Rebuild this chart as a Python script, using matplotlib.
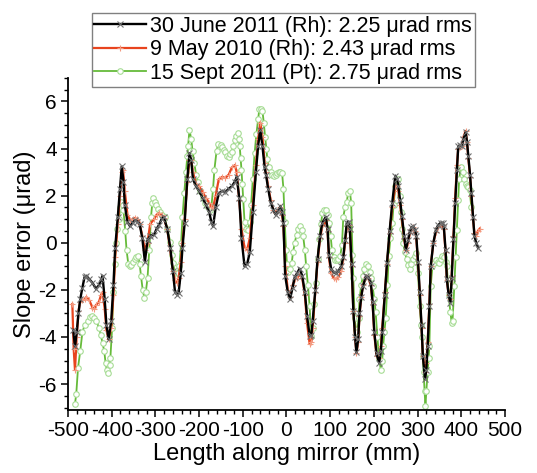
import numpy as np
import matplotlib
matplotlib.use("Agg")
import matplotlib.pyplot as plt
from matplotlib.ticker import MultipleLocator

plt.rcParams["font.family"] = ["Liberation Sans", "DejaVu Sans"]
plt.rcParams["axes.unicode_minus"] = False

# 30 June 2011 (Rh)
x_black = [-488, -484, -480, -476, -472, -467, -462, -458, -451, -444, -436, -429, -424, -421,
           -416, -412, -407, -401, -396, -392, -386, -381, -377, -373, -370, -364, -358, -352,
           -347, -341, -336, -330, -324, -318, -312, -303, -297, -292, -286, -281, -273, -266,
           -260, -255, -250, -247, -242, -238, -233, -227, -222, -218, -214, -207, -200, -192,
           -184, -177, -172, -168, -162, -155, -147, -140, -132, -125, -118, -114, -108, -103,
           -96, -90, -84, -77, -70, -65, -60, -55, -50, -47, -42, -36, -30, -25, -19, -14, -10,
           -7, -3, 3, 8, 14, 19, 24, 30, 36, 42, 47, 53, 57, 60, 66, 71, 77, 82, 90, 94, 97,
           102, 108, 114, 119, 125, 130, 134, 138, 142, 145, 149, 153, 157, 160, 164, 167, 171,
           175, 182, 187, 193, 197, 201, 206, 212, 216, 219, 225, 230, 236, 242, 249, 253, 256,
           260, 264, 269, 273, 278, 282, 286, 290, 294, 297, 301, 305, 309, 312, 317, 320, 323,
           327, 330, 336, 342, 347, 353, 357, 360, 364, 367, 371, 375, 378, 382, 386, 390, 393,
           397, 401, 405, 410, 413, 416, 420, 423, 427, 430, 434, 438]
y_black = [-3.7, -4.4, -3.8, -3.0, -2.4, -1.9, -1.45, -1.4, -1.55, -1.7, -1.95, -1.8, -1.55, -1.4,
           -2.4, -3.5, -4.1, -3.3, -1.8, -0.2, 1.1, 2.3, 3.25, 2.6, 1.6, 0.9, 0.7, 0.85,
           0.95, 0.9, 0.8, 0.2, -0.8, 0.1, 0.3, 0.35, 0.6, 0.75, 1.0, 1.1, 0.6, -0.2,
           -1.2, -2.1, -2.2, -2.15, -1.3, -0.2, 0.85, 2.7, 3.8, 3.5, 2.7, 2.4, 2.2, 1.9,
           1.6, 1.3, 0.9, 0.7, 1.5, 2.1, 2.2, 2.15, 2.3, 2.4, 2.6, 2.8, 1.9, 0.2,
           -1.0, -0.9, -0.4, 1.3, 3.0, 4.1, 4.8, 4.1, 3.2, 2.9, 2.3, 1.7, 1.4, 1.2, 1.35, 1.55, 1.3,
           0.85, -1.4, -2.1, -2.4, -1.9, -1.45, -1.3, -1.1, -1.4, -2.1, -3.1, -3.95, -3.9, -3.3, -2.0, -0.7, 0.3, 0.85, 1.1, 0.6, -0.5,
           -1.1, -1.25, -1.3, -1.2, -1.0, -0.6, 0.1, 0.85, 0.9, 0.6, -0.9, -2.9, -4.0, -4.65, -4.1, -3.0, -2.3,
           -1.85, -1.4, -1.45, -1.7, -2.5, -3.8, -4.7, -5.1, -4.6, -3.8, -2.2, -0.85, 0.5, 1.7, 2.85, 2.7, 2.4,
           1.8, 1.15, 0.3, -0.3, 0.1, 0.45, 0.65, 0.7, 0.55, 0.3, -0.8, -2.1, -3.5, -4.8, -5.8, -5.4, -4.4,
           -2.7, -1.0, 0.0, 0.55, 0.75, 0.85, 0.85, 0.7, -0.3, -1.55, -2.2, -2.55, -1.5, 0.15, 1.7, 3.1, 4.1,
           4.15, 4.1, 4.4, 4.7, 4.3, 3.7, 2.9, 2.1, 1.1, 0.3, 0.0, -0.2]

# 9 May 2010 (Rh)
x_red = [-490, -487, -484, -480, -476, -472, -467, -462, -458, -451, -444, -440, -436, -429,
         -424, -421, -416, -412, -407, -401, -396, -392, -386, -381, -377, -374, -370, -364,
         -358, -352, -347, -341, -336, -330, -324, -318, -312, -303, -297, -292, -286, -281,
         -273, -266, -260, -255, -250, -247, -242, -238, -233, -227, -222, -218, -214, -207,
         -200, -192, -184, -177, -172, -168, -162, -155, -147, -140, -132, -125, -118, -114,
         -108, -103, -96, -90, -84, -77, -70, -65, -60, -55, -50, -47, -42, -36, -30, -25,
         -19, -14, -10, -7, -3, 3, 8, 14, 19, 24, 30, 36, 42, 47, 53, 57, 60, 66, 71, 77, 82,
         90, 94, 97, 102, 108, 114, 119, 125, 130, 134, 138, 142, 145, 149, 153, 157, 160,
         164, 167, 171, 175, 182, 187, 193, 197, 201, 206, 212, 216, 219, 225, 230, 236, 242,
         249, 253, 256, 260, 264, 269, 273, 278, 282, 286, 290, 294, 297, 301, 305, 309, 312,
         317, 320, 323, 327, 330, 336, 342, 347, 353, 357, 360, 364, 367, 371, 375, 378, 382,
         386, 390, 393, 397, 401, 405, 410, 413, 416, 420, 423, 427, 430, 434, 438, 442]
y_red = [-2.6, -4.5, -5.4, -4.0, -2.9, -2.5, -2.45, -2.4, -2.3, -2.45, -2.75, -2.8, -2.65, -2.5,
         -2.2, -2.1, -2.8, -3.7, -4.1, -3.6, -2.2, -0.6, 0.8, 2.0, 3.0, 3.1, 2.2, 1.2,
         0.95, 1.0, 1.05, 1.0, 0.8, 0.3, -0.3, 0.0, 0.8, 1.0, 1.2, 1.25, 1.2, 1.05,
         0.6, -0.3, -1.2, -1.6, -1.7, -1.5, -0.8, 0.0, 1.0, 2.6, 3.5, 3.5, 3.0, 2.5,
         2.4, 2.15, 1.9, 1.7, 1.5, 1.5, 2.0, 2.7, 2.8, 2.75, 2.9, 3.2, 3.3, 3.0,
         1.8, 0.6, -0.2, -0.3, 0.2, 1.6, 3.3, 4.4, 5.1, 4.5, 3.4, 3.0, 2.4, 1.8, 1.4, 1.3,
         1.4, 1.5, 1.2, 0.7, -1.0, -2.0, -2.3, -1.8, -1.55, -1.5, -1.35, -1.5, -2.2, -3.4, -4.3, -4.2, -3.6, -2.1, -0.8, 0.2, 0.7,
         0.95, 0.5, -0.6, -1.3, -1.5, -1.55, -1.45, -1.2, -0.7, 0.0, 0.7, 0.75, 0.5, -1.0, -2.9, -4.0, -4.7,
         -4.2, -3.1, -2.3, -1.8, -1.45, -1.5, -1.8, -2.6, -3.9, -4.8, -4.9, -4.4, -3.6, -2.1, -0.9, 0.4, 1.5,
         2.4, 2.4, 2.2, 1.6, 1.0, 0.2, -0.3, 0.0, 0.4, 0.6, 0.65, 0.5, 0.2, -0.9, -2.2, -3.6, -4.8,
         -5.5, -5.1, -4.2, -2.6, -1.0, 0.0, 0.45, 0.65, 0.75, 0.75, 0.6, -0.4, -1.6, -2.2, -2.4, -1.4, 0.3,
         1.9, 3.3, 4.0, 4.05, 4.1, 4.5, 4.75, 4.3, 3.6, 2.8, 2.0, 1.0, 0.4, 0.3, 0.5, 0.6]

# 15 Sept 2011 (Pt)
x_green = [-484, -481, -477, -472, -467, -462, -455, -449, -444, -440, -436, -429, -425, -421,
           -417, -414, -411, -408, -405, -403, -399, -396, -393, -390, -387, -384, -380, -378,
           -375, -373, -369, -366, -362, -358, -355, -351, -347, -344, -340, -336, -333, -329,
           -325, -322, -318, -314, -310, -307, -305, -301, -298, -294, -290, -284, -279, -273,
           -266, -262, -259, -256, -253, -249, -245, -241, -238, -234, -230, -227, -225, -222,
           -218, -215, -211, -207, -203, -197, -192, -187, -181, -176, -172, -168, -165, -160,
           -156, -151, -147, -144, -140, -136, -132, -129, -125, -122, -118, -115, -112, -109,
           -107, -105, -103, -101, -99, -96, -92, -88, -84, -81, -77, -73, -69, -65, -62, -58,
           -55, -52, -49, -46, -44, -40, -36, -33, -29, -25, -21, -18, -14, -10, -7, -4, -1,
           1, 4, 8, 12, 15, 19, 23, 27, 32, 35, 38, 42, 45, 49, 53, 56, 60, 64, 67, 71, 75,
           79, 82, 86, 90, 94, 97, 101, 104, 108, 112, 116, 119, 123, 127, 130, 134, 138, 141,
           145, 148, 151, 153, 156, 159, 162, 165, 167, 171, 175, 178, 182, 186, 190, 193, 197,
           201, 204, 208, 212, 216, 219, 221, 224, 227, 231, 234, 238, 242, 245, 249, 253, 256,
           260, 262, 265, 267, 271, 275, 278, 282, 286, 290, 293, 297, 301, 305, 308, 310, 312,
           314, 316, 318, 320, 323, 325, 327, 330, 334, 338, 342, 346, 349, 353, 356, 360, 364,
           367, 371, 375, 378, 380, 384, 387, 390, 393, 395, 399, 403, 407, 410, 412, 416, 419, 423]
y_green = [-6.85, -6.4, -5.3, -4.6, -3.8, -3.5, -3.3, -3.15, -3.1, -3.2, -3.3, -3.6, -3.9, -4.25,
           -4.6, -5.1, -5.4, -5.55, -5.2, -4.9, -3.6, -2.1, -0.9, 0.0, 0.6, 1.0, 1.5, 1.75,
           1.6, 1.4, 0.5, -0.3, -0.9, -1.0, -0.95, -0.8, -0.7, -0.6, -0.55, -0.9, -1.4, -2.0,
           -2.35, -2.1, -1.5, -0.3, 1.1, 1.7, 1.9, 1.75, 1.6, 1.45, 1.3, 1.2, 1.1, 0.6,
           0.05, -0.5, -0.85, -1.3, -1.5, -1.3, -1.0, 0.0, 1.1, 2.1, 3.0, 3.7, 4.1, 4.8,
           4.4, 3.9, 3.4, 2.9, 2.6, 2.2, 1.9, 1.7, 1.55, 1.4, 1.5, 2.3, 3.1, 3.9,
           4.2, 4.15, 4.05, 3.95, 3.85, 3.7, 3.65, 3.75, 3.85, 4.1, 4.35, 4.55, 4.65, 4.4,
           4.1, 3.6, 3.1, 2.5, 1.85, 0.9, 0.6, 0.55, 0.9, 1.6, 2.7, 3.8, 4.6, 5.25, 5.7, 5.7,
           5.6, 5.1, 4.5, 4.0, 3.55, 3.2, 3.0, 2.9, 2.85, 2.9, 2.95, 3.0, 3.0, 2.95, 2.3, 0.9, -0.3,
           -0.9, -1.25, -1.1, -0.85, -0.4, 0.0, 0.35, 0.6, 0.7, 0.55, 0.3, -0.3, -1.0, -1.8, -2.7, -3.95, -3.6, -2.6, -1.7, -0.7, 0.15,
           0.8, 1.25, 1.4, 1.4, 1.2, 0.85, 0.3, -0.3, -0.6, -0.75, -0.75, -0.7, -0.55, -0.1, 1.1, 1.5, 1.75, 2.1,
           2.2, 1.7, -0.5, -1.5, -3.2, -3.7, -3.8, -3.2, -2.4, -1.8, -1.4, -1.1, -0.9, -1.0, -1.25, -1.5, -1.85,
           -2.4, -2.95, -4.0, -4.95, -5.4, -5.0, -4.4, -3.8, -3.2, -1.8, -0.55, 0.2, 0.85, 1.6, 2.4, 2.65, 2.7,
           2.0, 1.3, 0.6, 0.0, -0.4, -0.7, -0.95, -1.1, -0.9, -0.7, -0.55, -0.45, -1.3, -2.7, -3.5, -4.0, -4.8,
           -5.5, -6.3, -6.95, -6.3, -5.5, -4.9, -4.4, -1.85, -1.0, -0.85, -0.75, -0.8, -0.85, -0.7, -0.55, -0.6, -0.8,
           -1.0, -2.2, -2.95, -3.4, -3.3, -1.85, -0.6, 0.55, 1.8, 2.7, 3.2, 3.0, 2.7, 2.5, 2.4, 2.35, 2.25, 1.5]

labels = ["30 June 2011 (Rh): 2.25 \u03bcrad rms",
          "9 May 2010 (Rh): 2.43 \u03bcrad rms",
          "15 Sept 2011 (Pt): 2.75 \u03bcrad rms"]

fig = plt.figure(figsize=(5.37, 4.73), dpi=100)
ax = fig.add_axes([0.1266, 0.1332, 0.8138, 0.702])

(l_green,) = ax.plot(x_green, y_green, color="#66bb3a", lw=1.3, marker="o", ms=4,
                     mfc="white", mec="#a6dc94", mew=0.8, zorder=2)
(l_red,) = ax.plot(x_red, y_red, color="#e8441e", lw=1.6, marker="+", ms=4.5,
                   mec="#f39a80", mew=0.8, zorder=3)
(l_black,) = ax.plot(x_black, y_black, color="black", lw=1.7, marker="x", ms=4,
                     mec="#707070", mew=0.8, zorder=4)

ax.set_xlim(-500, 500)
ax.set_ylim(-7.1, 7.0)
ax.xaxis.set_major_locator(MultipleLocator(100))
ax.xaxis.set_minor_locator(MultipleLocator(20))
ax.yaxis.set_major_locator(MultipleLocator(2))
ax.yaxis.set_minor_locator(MultipleLocator(0.5))

ax.spines["top"].set_visible(False)
ax.spines["right"].set_visible(False)
ax.spines["left"].set_linewidth(1.3)
ax.spines["bottom"].set_linewidth(1.3)
ax.tick_params(which="major", direction="out", length=5, width=1.1, labelsize=15, pad=3)
ax.tick_params(which="minor", direction="out", length=3, width=1.0)

ax.set_xlabel("Length along mirror (mm)", fontsize=17, labelpad=2)
ax.set_ylabel("Slope error (\u03bcrad)", fontsize=17, labelpad=2)

leg = fig.legend([l_black, l_red, l_green], labels, loc="upper left",
                 bbox_to_anchor=(0.171, 0.972), fontsize=15.5, frameon=True,
                 fancybox=False, edgecolor="#808080", framealpha=1,
                 handlelength=2.4, handletextpad=0.2, borderpad=0.12,
                 labelspacing=0.12, borderaxespad=0, numpoints=1)
leg.get_frame().set_linewidth(1.0)

fig.savefig("out.png", dpi=100)
